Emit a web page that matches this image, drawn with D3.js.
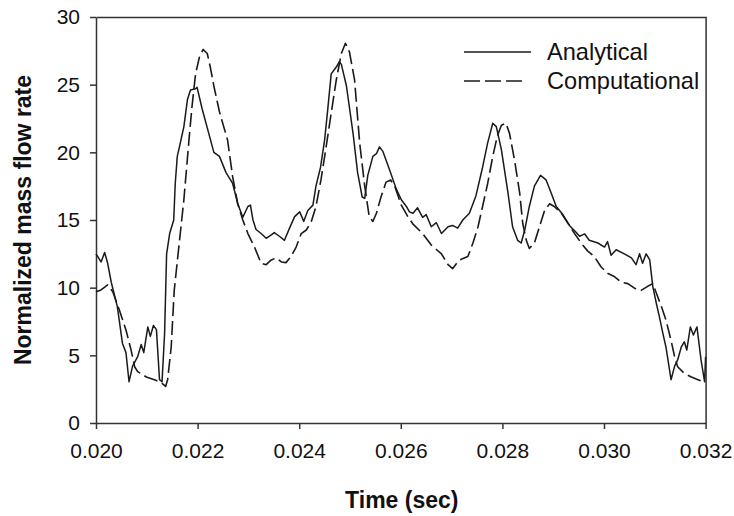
<!DOCTYPE html>
<html>
<head>
<meta charset="utf-8">
<script src="https://cdn.jsdelivr.net/npm/d3@7"></script>
<style>
  html, body { margin: 0; padding: 0; background: #fff; }
  svg { display: block; }
  text { font-family: "Liberation Sans", Arial, sans-serif; fill: #111; }
</style>
</head>
<body>
<svg id="chart" width="734" height="516"></svg>
<script>
// Time samples (s) and normalized mass flow rate, analytical solution
const analyticalTime = [
  0.02000, 0.02010, 0.02017, 0.02023, 0.02030, 0.02042, 0.02052, 0.02059, 0.02065, 0.02072,
  0.02082, 0.02089, 0.02094, 0.02102, 0.02107, 0.02113, 0.02119, 0.02125, 0.02130, 0.02135,
  0.02139, 0.02145, 0.02153, 0.02156, 0.02160, 0.02166, 0.02173, 0.02180, 0.02186, 0.02196,
  0.02199, 0.02209, 0.02222, 0.02232, 0.02243, 0.02256, 0.02269, 0.02279, 0.02289, 0.02299,
  0.02304, 0.02309, 0.02315, 0.02325, 0.02335, 0.02345, 0.02351, 0.02361, 0.02371, 0.02381,
  0.02391, 0.02401, 0.02409, 0.02417, 0.02427, 0.02433, 0.02442, 0.02450, 0.02456, 0.02463,
  0.02473, 0.02479, 0.02483, 0.02493, 0.02506, 0.02515, 0.02524, 0.02529, 0.02535, 0.02545,
  0.02552, 0.02558, 0.02565, 0.02578, 0.02591, 0.02601, 0.02611, 0.02617, 0.02624, 0.02633,
  0.02643, 0.02650, 0.02660, 0.02670, 0.02680, 0.02693, 0.02702, 0.02712, 0.02722, 0.02735,
  0.02748, 0.02761, 0.02771, 0.02781, 0.02788, 0.02798, 0.02811, 0.02820, 0.02830, 0.02837,
  0.02844, 0.02853, 0.02863, 0.02875, 0.02886, 0.02896, 0.02906, 0.02919, 0.02932, 0.02945,
  0.02952, 0.02962, 0.02971, 0.02988, 0.03001, 0.03007, 0.03014, 0.03024, 0.03040, 0.03054,
  0.03063, 0.03070, 0.03076, 0.03083, 0.03090, 0.03096, 0.03103, 0.03109, 0.03116, 0.03122,
  0.03132, 0.03139, 0.03145, 0.03152, 0.03158, 0.03163, 0.03170, 0.03176, 0.03183, 0.03191,
  0.03198, 0.03200
];
const analyticalFlow = [
  12.5, 11.9, 12.6, 11.8, 10.4, 8.6, 5.9, 5.2, 3.05, 4.2,
  4.9, 5.8, 5.2, 7.1, 6.4, 7.2, 6.9, 3.2, 3.05, 6.6,
  12.5, 14.0, 15.0, 17.7, 19.7, 20.7, 21.9, 23.9, 24.6, 24.7,
  24.8, 23.2, 21.4, 20.0, 19.7, 18.5, 17.7, 16.2, 15.2, 16.0,
  16.1, 15.0, 14.3, 14.0, 13.65, 13.9, 14.07, 13.8, 13.5, 14.4,
  15.25, 15.6, 14.9, 15.7, 16.1, 17.5, 18.9, 20.9, 23.1, 25.8,
  26.3, 26.7, 26.5, 24.9, 21.4, 18.5, 16.7, 16.6, 18.3, 19.7,
  19.9, 20.4, 20.05, 18.7, 17.3, 16.5, 16.0, 15.6, 15.5, 15.9,
  15.2, 15.4, 14.5, 14.8, 14.0, 14.5, 14.6, 14.4, 15.0, 15.5,
  16.8, 18.9, 20.7, 22.15, 21.9, 20.2, 17.0, 14.5, 13.5, 13.3,
  14.26, 16.0, 17.5, 18.3, 17.96, 17.0, 16.0, 15.4, 14.6, 14.1,
  13.8, 13.97, 13.5, 13.3, 13.0, 13.4, 12.4, 12.8, 12.5, 12.2,
  11.7, 12.5, 11.8, 12.5, 12.05, 10.1, 8.85, 7.86, 6.6, 5.6,
  3.2, 4.2, 4.66, 5.6, 6.0, 5.4, 7.1, 6.5, 7.1, 4.66,
  3.05, 4.9
];

// Time samples (s) and normalized mass flow rate, computational solution
const computationalTime = [
  0.02000, 0.02010, 0.02023, 0.02033, 0.02046, 0.02059, 0.02069, 0.02076, 0.02082, 0.02099,
  0.02115, 0.02128, 0.02137, 0.02141, 0.02148, 0.02154, 0.02163, 0.02173, 0.02183, 0.02189,
  0.02196, 0.02204, 0.02211, 0.02219, 0.02225, 0.02232, 0.02243, 0.02259, 0.02269, 0.02279,
  0.02289, 0.02299, 0.02312, 0.02325, 0.02335, 0.02345, 0.02355, 0.02365, 0.02374, 0.02384,
  0.02394, 0.02404, 0.02414, 0.02424, 0.02433, 0.02443, 0.02453, 0.02463, 0.02473, 0.02483,
  0.02491, 0.02499, 0.02509, 0.02519, 0.02529, 0.02538, 0.02545, 0.02552, 0.02561, 0.02571,
  0.02580, 0.02588, 0.02601, 0.02613, 0.02624, 0.02643, 0.02660, 0.02680, 0.02693, 0.02702,
  0.02712, 0.02719, 0.02732, 0.02742, 0.02752, 0.02761, 0.02771, 0.02781, 0.02790, 0.02798,
  0.02807, 0.02814, 0.02824, 0.02834, 0.02840, 0.02847, 0.02853, 0.02863, 0.02873, 0.02883,
  0.02893, 0.02902, 0.02916, 0.02929, 0.02942, 0.02955, 0.02968, 0.02981, 0.02994, 0.03007,
  0.03021, 0.03034, 0.03047, 0.03060, 0.03073, 0.03086, 0.03096, 0.03103, 0.03113, 0.03122,
  0.03132, 0.03139, 0.03145, 0.03158, 0.03172, 0.03185, 0.03198
];
const computationalFlow = [
  9.7, 9.83, 10.2, 9.7, 8.35, 6.87, 5.4, 4.16, 3.8, 3.4,
  3.2, 3.0, 2.7, 3.2, 5.6, 9.8, 13.0, 16.5, 20.9, 23.4,
  25.8, 27.1, 27.6, 27.3, 26.3, 24.9, 23.0, 20.9, 18.2, 16.2,
  15.0, 14.0, 13.0, 11.8, 11.7, 12.05, 12.2, 11.9, 11.85, 12.3,
  13.0, 14.0, 14.26, 14.9, 16.0, 18.0, 20.4, 22.9, 25.35, 27.3,
  28.06, 27.4, 25.35, 20.7, 17.5, 15.2, 14.9, 15.5, 16.7, 17.8,
  17.96, 17.5, 16.1, 15.3, 14.7, 14.0, 13.15, 12.5, 11.7, 11.4,
  11.9, 12.1, 12.3, 13.3, 14.5, 16.0, 17.7, 19.7, 21.2, 22.0,
  22.15, 21.4, 19.4, 17.0, 14.76, 13.5, 12.9, 13.3, 14.5, 15.7,
  16.2, 16.0, 15.5, 14.76, 14.0, 13.3, 12.7, 12.3, 11.55, 11.06,
  10.8, 10.4, 10.3, 9.96, 9.8, 10.1, 10.3, 9.6, 8.6, 7.6,
  6.1, 4.9, 4.16, 3.67, 3.4, 3.2, 3.0
];

// Axis ticks
const xTickValues = [0.020, 0.022, 0.024, 0.026, 0.028, 0.030, 0.032];
const yTickValues = [0, 5, 10, 15, 20, 25, 30];

const seriesNames = ["Analytical", "Computational"];

const svg = d3.select("#chart");
const plotLeft = 96, plotRight = 705.6, plotTop = 17, plotBottom = 423;

const x = d3.scaleLinear().domain([0.020, 0.032]).range([plotLeft, plotRight]);
const y = d3.scaleLinear().domain([0, 30]).range([plotBottom, plotTop]);

const ink = "#1a1a1a";

// frame: top and right edges
svg.append("path")
  .attr("d", `M${plotLeft + 0.5},${plotTop + 0.5}H${plotRight + 0.5}V${plotBottom + 0.5}`)
  .attr("fill", "none")
  .attr("stroke", "#333")
  .attr("stroke-width", 1.5);

// x axis
const gx = svg.append("g")
  .attr("transform", `translate(0,${plotBottom})`)
  .call(d3.axisBottom(x).tickValues(xTickValues).tickFormat(d3.format(".3f"))
    .tickSizeInner(6).tickSizeOuter(0).tickPadding(14));
// y axis
const gy = svg.append("g")
  .attr("transform", `translate(${plotLeft},0)`)
  .call(d3.axisLeft(y).tickValues(yTickValues).tickFormat(d3.format("d"))
    .tickSizeInner(6).tickSizeOuter(0).tickPadding(10));

[gx, gy].forEach(g => {
  g.select(".domain").attr("stroke", "#333").attr("stroke-width", 1.5);
  g.selectAll(".tick line").attr("stroke", "#333").attr("stroke-width", 1.5);
  g.selectAll(".tick text")
    .attr("fill", "#111")
    .style("font-family", '"Liberation Sans", Arial, sans-serif')
    .style("font-size", "21px");
});

// axis titles
svg.append("text")
  .attr("x", (plotLeft + plotRight) / 2 + 1)
  .attr("y", 508)
  .attr("text-anchor", "middle")
  .style("font-size", "23px")
  .style("font-weight", "bold")
  .text("Time (sec)");

svg.append("text")
  .attr("transform", `translate(31,${(plotTop + plotBottom) / 2}) rotate(-90)`)
  .attr("text-anchor", "middle")
  .style("font-size", "23px")
  .style("font-weight", "bold")
  .text("Normalized mass flow rate");

// series lines
const line = d3.line()
  .x(d => x(d[0]))
  .y(d => y(d[1]))
  .curve(d3.curveLinear);

const analytical = analyticalTime.map((t, i) => [t, analyticalFlow[i]]);
const computational = computationalTime.map((t, i) => [t, computationalFlow[i]]);

svg.append("path")
  .datum(analytical)
  .attr("d", line)
  .attr("fill", "none")
  .attr("stroke", ink)
  .attr("stroke-width", 1.5)
  .attr("stroke-linejoin", "round");

svg.append("path")
  .datum(computational)
  .attr("d", line)
  .attr("fill", "none")
  .attr("stroke", ink)
  .attr("stroke-width", 1.6)
  .attr("stroke-dasharray", "14,5")
  .attr("stroke-linejoin", "round");

// legend
const legend = svg.append("g");
const legendRows = [
  { name: seriesNames[0], y: 52, dash: null },
  { name: seriesNames[1], y: 81, dash: "16,5" }
];
legendRows.forEach(r => {
  legend.append("line")
    .attr("x1", 464).attr("x2", r.dash ? 524 : 531)
    .attr("y1", r.y).attr("y2", r.y)
    .attr("stroke", ink)
    .attr("stroke-width", 1.5)
    .attr("stroke-dasharray", r.dash);
  legend.append("text")
    .attr("x", 547)
    .attr("y", r.y + 8)
    .style("font-size", "23.6px")
    .text(r.name);
});
</script>
</body>
</html>
